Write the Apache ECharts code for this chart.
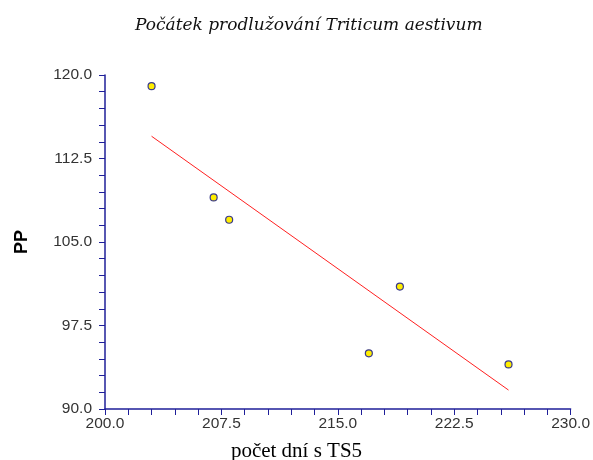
<!DOCTYPE html>
<html>
<head>
<meta charset="utf-8">
<script src="https://cdn.jsdelivr.net/npm/echarts@6/dist/echarts.min.js"></script>
<style>html,body{margin:0;padding:0;background:#fff}#c{width:593px;height:460px}</style>
</head>
<body>
<div id="c"></div>
<script>
// Data
const xDays = [203, 207, 208, 217, 219, 226];
const yPP = [119, 109, 107, 95, 101, 94];
const trendX = [203, 226];
const trendY = [114.5, 91.7];
const xTickLabels = [200, 207.5, 215, 222.5, 230];
const yTickLabels = [90, 97.5, 105, 112.5, 120];
const minorStep = 1.5;

function ticksBetween(a, b, step) {
  const out = [];
  const n = Math.round((b - a) / step);
  for (let i = 0; i <= n; i++) out.push(+(a + i * step).toFixed(4));
  return out;
}
const xTicks = ticksBetween(xTickLabels[0], xTickLabels[xTickLabels.length - 1], minorStep);
const yTicks = ticksBetween(yTickLabels[0], yTickLabels[yTickLabels.length - 1], minorStep);

const points = xDays.map((x, i) => [x, yPP[i]]);
const trend = trendX.map((x, i) => [x, trendY[i]]);

const axisColor = '#1f1f99';
const chart = echarts.init(document.getElementById('c'));
chart.setOption({
  animation: false,
  backgroundColor: '#fff',
  title: [
    {
      text: 'Počátek prodlužování Triticum aestivum',
      left: 130,
      top: 12,
      textStyle: { fontFamily: 'DejaVu Serif', fontStyle: 'italic', fontWeight: 'normal', fontSize: 17, color: '#111' }
    },
    {
      text: 'počet dní s TS5',
      left: 'center',
      top: 436,
      textStyle: { fontFamily: 'Liberation Serif', fontWeight: 'normal', fontSize: 21, color: '#000' }
    }
  ],
  grid: { left: 105, right: 21, top: 75, bottom: 51, containLabel: false },
  xAxis: {
    type: 'value',
    min: xTickLabels[0],
    max: xTickLabels[xTickLabels.length - 1],
    splitLine: { show: false },
    axisLine: { show: true, onZero: false, lineStyle: { color: axisColor, width: 1.5 } },
    axisTick: { show: true, customValues: xTicks, length: 6, lineStyle: { color: axisColor, width: 1 } },
    axisLabel: {
      customValues: xTickLabels,
      formatter: v => v.toFixed(1),
      fontFamily: 'Liberation Sans', fontSize: 15.5, color: '#333', margin: 7
    }
  },
  yAxis: {
    type: 'value',
    min: yTickLabels[0],
    max: yTickLabels[yTickLabels.length - 1],
    name: 'PP',
    nameLocation: 'middle',
    nameGap: 74,
    nameTextStyle: { fontFamily: 'Liberation Sans', fontWeight: 'bold', fontSize: 18, color: '#000' },
    splitLine: { show: false },
    axisLine: { show: true, onZero: false, lineStyle: { color: axisColor, width: 1.5 } },
    axisTick: { show: true, customValues: yTicks, length: 6, lineStyle: { color: axisColor, width: 1 } },
    axisLabel: {
      customValues: yTickLabels,
      formatter: v => v.toFixed(1),
      fontFamily: 'Liberation Sans', fontSize: 15.5, color: '#333', margin: 13
    }
  },
  series: [
    {
      type: 'line',
      data: trend,
      symbol: 'none',
      lineStyle: { color: '#ff2020', width: 1 },
      z: 2
    },
    {
      type: 'scatter',
      data: points,
      symbol: 'circle',
      symbolSize: 7,
      itemStyle: { color: '#ffee00', borderColor: '#3a3a8a', borderWidth: 1.2, opacity: 1 },
      z: 3
    }
  ]
});
</script>
</body>
</html>
